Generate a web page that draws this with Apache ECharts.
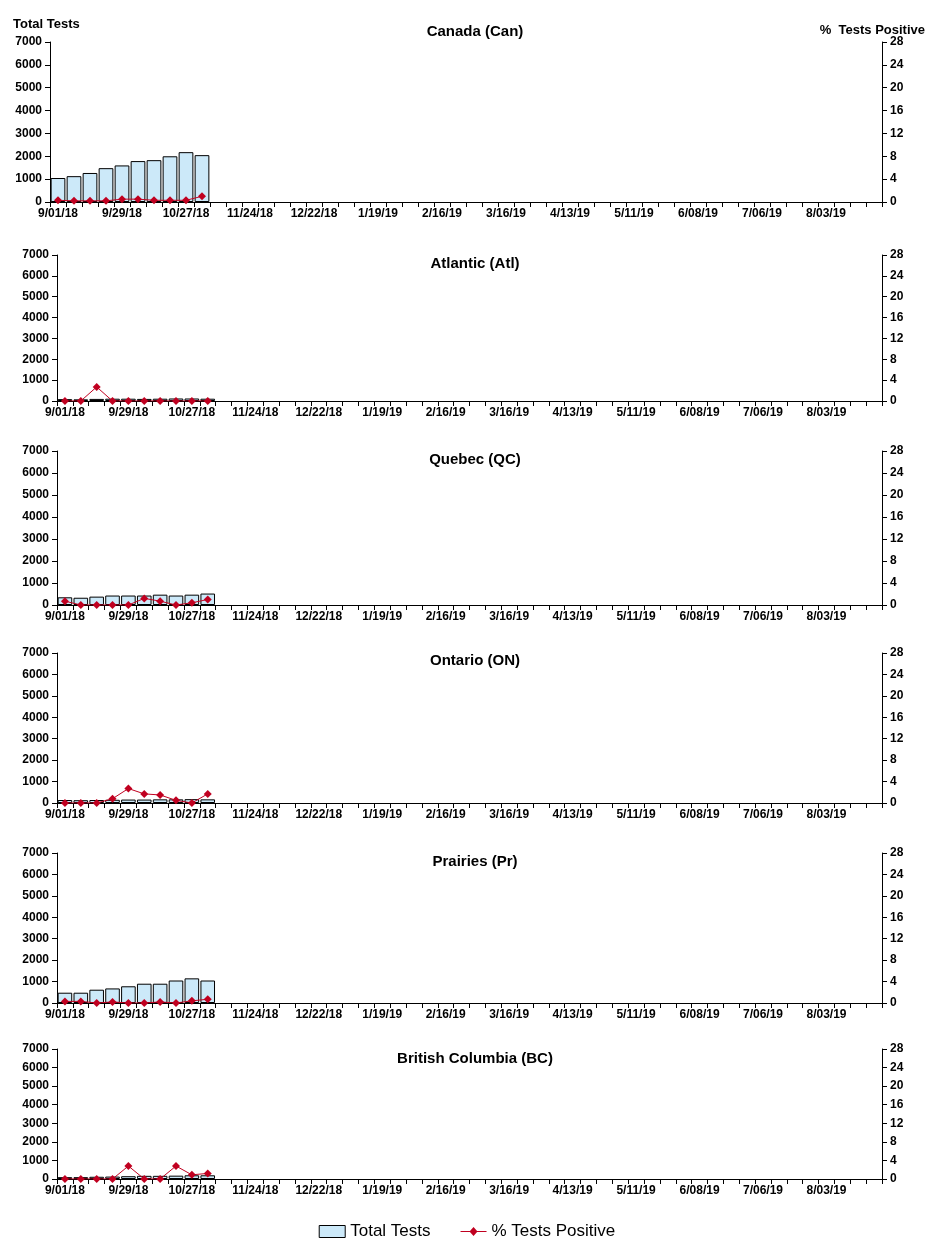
<!DOCTYPE html>
<html>
<head>
<meta charset="utf-8">
<script src="https://cdn.jsdelivr.net/npm/echarts@6/dist/echarts.min.js"></script>
<style>
  html, body { margin: 0; padding: 0; background: #fff; }
  #chart { width: 934px; height: 1257px; }
</style>
</head>
<body>
<div id="chart"></div>
<script>
const weeks = ['9/01/18','9/08/18','9/15/18','9/22/18','9/29/18','10/06/18','10/13/18','10/20/18','10/27/18','11/03/18','11/10/18','11/17/18',
  '11/24/18','12/01/18','12/08/18','12/15/18','12/22/18','12/29/18','1/05/19','1/12/19','1/19/19','1/26/19','2/02/19','2/09/19',
  '2/16/19','2/23/19','3/02/19','3/09/19','3/16/19','3/23/19','3/30/19','4/06/19','4/13/19','4/20/19','4/27/19','5/04/19',
  '5/11/19','5/18/19','5/25/19','6/01/19','6/08/19','6/15/19','6/22/19','6/29/19','7/06/19','7/13/19','7/20/19','7/27/19',
  '8/03/19','8/10/19','8/17/19','8/24/19'];

const regions = ['Canada (Can)', 'Atlantic (Atl)', 'Quebec (QC)', 'Ontario (ON)', 'Prairies (Pr)', 'British Columbia (BC)'];

const testsCan = [1050, 1130, 1270, 1480, 1600, 1790, 1830, 2000, 2180, 2050];
const testsAtl = [90, 80, 100, 110, 110, 100, 110, 120, 120, 110];
const testsQC  = [350, 330, 380, 430, 430, 430, 470, 430, 470, 520];
const testsON  = [140, 130, 140, 150, 160, 160, 170, 170, 180, 170];
const testsPr  = [480, 480, 620, 680, 780, 900, 900, 1050, 1150, 1050];
const testsBC  = [100, 100, 120, 130, 150, 170, 170, 180, 200, 200];

const posCan = [0.3, 0.2, 0.2, 0.2, 0.5, 0.5, 0.3, 0.3, 0.3, 1.0];
const posAtl = [0, 0, 2.7, 0, 0, 0, 0, 0, 0, 0];
const posQC  = [0.7, 0, 0, 0, 0, 1.2, 0.7, 0, 0.4, 1.0];
const posON  = [0, 0, 0, 0.8, 2.7, 1.7, 1.5, 0.5, 0, 1.7];
const posPr  = [0.3, 0.3, 0, 0.2, 0, 0, 0.2, 0, 0.4, 0.7];
const posBC  = [0, 0, 0, 0, 2.8, 0, 0, 2.8, 0.9, 1.2];

const tests = [testsCan, testsAtl, testsQC, testsON, testsPr, testsBC];
const positive = [posCan, posAtl, posQC, posON, posPr, posBC];

// panel boxes [top, bottom, left, titleTop]
const boxes = [[42, 202, 50, 19], [255, 401, 57, 251], [451, 605, 57, 447], [653, 803, 57, 648], [853, 1003, 57, 849], [1049, 1179, 57, 1046]];
const rightEdge = 882;
const font = 'Arial, "Liberation Sans", sans-serif';
const lbl = { color: '#000', fontWeight: 'bold', fontSize: 12, fontFamily: font };
const axLine = { show: true, lineStyle: { color: '#000', width: 1 } };
const red = '#c00020';

const grid = [], xAxis = [], yAxis = [], series = [], title = [];
boxes.forEach((b, i) => {
  grid.push({ left: b[2], top: b[0], width: rightEdge - b[2], height: b[1] - b[0] });
  title.push({ text: regions[i], left: 470, textAlign: 'center', top: b[3],
    textStyle: { fontSize: 15, fontWeight: 'bold', fontFamily: font, color: '#000' } });
  xAxis.push({ type: 'category', gridIndex: i, data: weeks, boundaryGap: true,
    axisLine: axLine, axisTick: { show: true, interval: 0, length: 5, lineStyle: { color: '#000' } },
    axisLabel: Object.assign({ interval: 3, margin: 6 }, lbl) });
  yAxis.push({ type: 'value', gridIndex: i, min: 0, max: 7000, interval: 1000, position: 'left',
    axisLine: axLine, axisTick: { show: true, length: 5, lineStyle: { color: '#000' } },
    splitLine: { show: false }, axisLabel: Object.assign({ margin: 8, formatter: v => String(v) }, lbl) });
  yAxis.push({ type: 'value', gridIndex: i, min: 0, max: 28, interval: 4, position: 'right',
    axisLine: axLine, axisTick: { show: true, length: 5, lineStyle: { color: '#000' } },
    splitLine: { show: false }, axisLabel: Object.assign({ margin: 8 }, lbl) });
  series.push({ name: 'Total Tests', type: 'bar', xAxisIndex: i, yAxisIndex: i * 2, data: tests[i],
    barCategoryGap: '8%', itemStyle: { color: '#cce9f9', borderColor: '#000', borderWidth: 1 } });
  series.push({ name: '% Tests Positive', type: 'line', xAxisIndex: i, yAxisIndex: i * 2 + 1, data: positive[i],
    symbol: 'diamond', symbolSize: 8, itemStyle: { color: red }, lineStyle: { color: red, width: 1 } });
});
title.push({ text: 'Total Tests', left: 8, top: 13, textStyle: { fontSize: 13, fontWeight: 'bold', fontFamily: font, color: '#000' } });
title.push({ text: '%  Tests Positive', right: 4, top: 19, textStyle: { fontSize: 13, fontWeight: 'bold', fontFamily: font, color: '#000' } });

const chart = echarts.init(document.getElementById('chart'));
chart.setOption({
  animation: false,
  backgroundColor: '#fff',
  title: title,
  legend: { bottom: 12, left: 'center', itemGap: 30, itemWidth: 26, itemHeight: 12,
    textStyle: { fontSize: 17, fontFamily: font, color: '#000' },
    data: [{ name: 'Total Tests', icon: 'rect', itemStyle: { color: '#cce9f9', borderColor: '#000', borderWidth: 1 } },
           { name: '% Tests Positive', icon: 'path://M0,6L26,6L26,7L0,7Z M13,2L17,6.5L13,11L9,6.5Z', itemStyle: { color: red } }] },
  grid: grid, xAxis: xAxis, yAxis: yAxis, series: series
});
</script>
</body>
</html>
